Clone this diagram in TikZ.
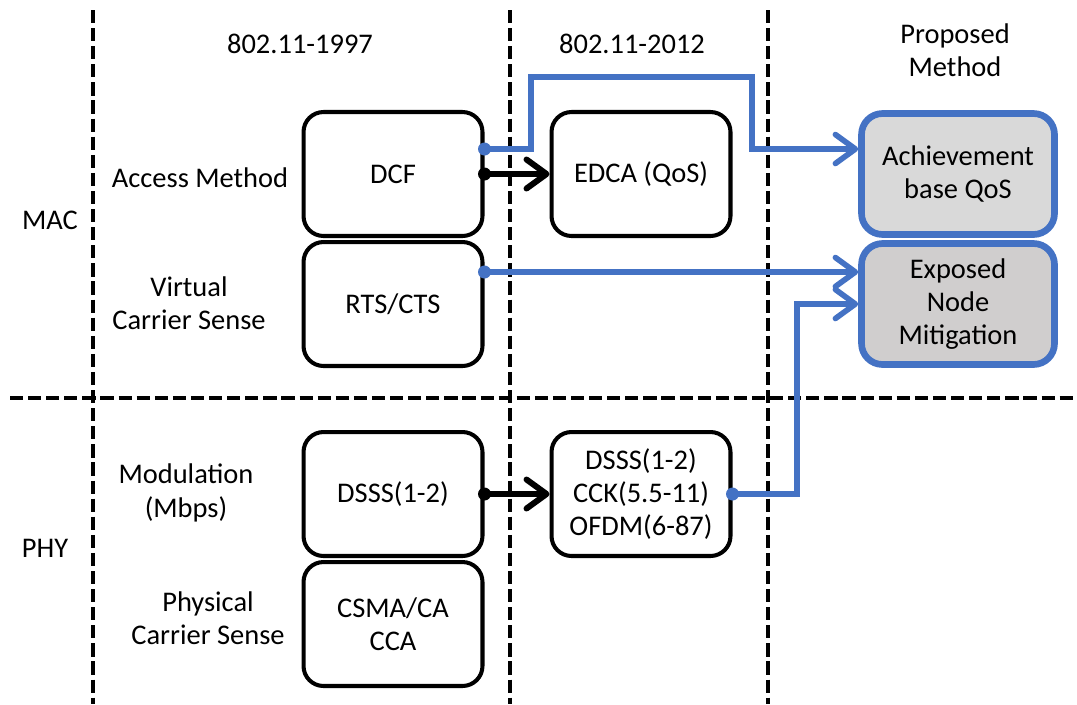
\documentclass[tikz,border=0pt]{standalone}
\usepackage{fontspec}
\setmainfont{Carlito}
\usetikzlibrary{arrows.meta}
\definecolor{qosblue}{HTML}{4472C4}
\definecolor{lightfill}{HTML}{D9D9D9}
\definecolor{darkfill}{HTML}{D0CECE}

\begin{document}
\begin{tikzpicture}[x=0.02cm, y=-0.02cm,
  every node/.style={font=\fontsize{16.2}{19}\selectfont, align=center},
  stdbox/.style={draw, line width=2.3pt, rounded corners=0.4cm, minimum width=3.58cm, minimum height=2.48cm},
  newbox/.style={draw=qosblue, line width=3.8pt, rounded corners=0.42cm, minimum width=3.86cm, minimum height=2.42cm},
  sep/.style={line width=2.2pt, dash pattern=on 7.5pt off 2.8pt},
  blk/.style={line width=3.4pt, -{Straight Barb[length=4mm, width=5.8mm, round]}},
  blu/.style={qosblue, line width=3.2pt, -{Straight Barb[length=4mm, width=5.8mm, round]}}]
  \useasboundingbox (0,0) rectangle (1077,704);
  % separators
  \foreach \x in {93,510,768} \draw[sep] (\x,10) -- (\x,704);
  \draw[sep] (10,398) -- (1077,398);
  % headers
  \node (h97) at (300,44) {802.11-1997};
  \node (h12) at (632,44) {802.11-2012};
  \node (hpm) at (955,50) {Proposed\\Method};
  \node (mac) at (50,220) {MAC};
  \node (phy) at (45,548) {PHY};
  \node (lacc) at (200,178) {Access Method};
  \node (lvcs) at (189,303) {Virtual\\Carrier Sense};
  \node (lmod) at (186,493) {Modulation\\(Mbps)};
  \node (lpcs) at (208,618) {Physical\\Carrier Sense};
  % boxes
  \node[stdbox] (dcf) at (393,174) {DCF};
  \node[stdbox] (rts) at (393,304) {RTS/CTS};
  \node[stdbox] (edca) at (641,174) {EDCA (QoS)};
  \node[stdbox] (dsss) at (393,494) {DSSS(1-2)};
  \node[stdbox] (csma) at (393,624) {CSMA/CA\\CCA};
  \node[stdbox] (ofdm) at (641,494) {DSSS(1-2)\\CCK(5.5-11)\\OFDM(6-87)};
  \node[newbox, fill=lightfill] (aqos) at (958,174) {Achievement\\base QoS};
  \node[newbox, fill=darkfill] (enm) at (958,304) {Exposed\\Node\\Mitigation};
  % arrows
  \draw[blk] (dcf.east) -- (edca.west);
  \draw[blk] (dsss.east) -- (ofdm.west);
  \fill (dcf.east) circle (0.13cm);
  \fill (dsss.east) circle (0.13cm);
  \draw[blu] ([yshift=0.5cm]dcf.east) -| (531,77) -| (752,149) -- ([yshift=0.5cm]aqos.west);
  \draw[blu] ([yshift=0.64cm]rts.east) -- ([yshift=0.64cm]enm.west);
  \draw[blu] (ofdm.east) -| (797,304) -- (enm.west);
  \fill[qosblue] ([yshift=0.5cm]dcf.east) circle (0.13cm);
  \fill[qosblue] ([yshift=0.64cm]rts.east) circle (0.13cm);
  \fill[qosblue] (ofdm.east) circle (0.13cm);
\end{tikzpicture}
\end{document}
